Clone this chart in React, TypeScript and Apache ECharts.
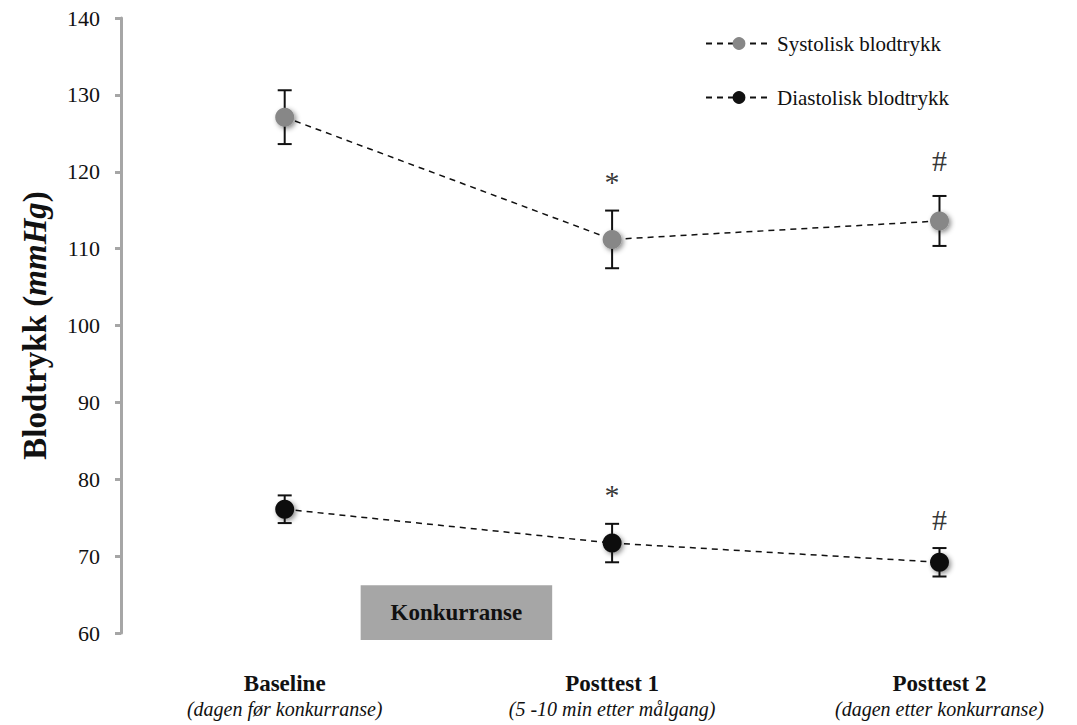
import React, { useEffect, useRef } from "react";
import * as echarts from "echarts";

// Measurement points on the x axis (0, 1, 2)
const timepoints = ["Baseline", "Posttest 1", "Posttest 2"];
const timepointNotes = [
  "(dagen før konkurranse)",
  "(5 -10 min etter målgang)",
  "(dagen etter konkurranse)",
];

// Blood pressure, mean and standard deviation (mmHg)
const systolicMean = [127.1, 111.2, 113.6];
const systolicSd = [3.5, 3.75, 3.25];
const diastolicMean = [76.1, 71.7, 69.2];
const diastolicSd = [1.8, 2.5, 1.85];

// Significance markers: [x, y, symbol]
const systolicSig: [number, number, string][] = [
  [1, 118.7, "*"],
  [2, 121.5, "#"],
];
const diastolicSig: [number, number, string][] = [
  [1, 78.0, "*"],
  [2, 74.8, "#"],
];

// Competition period shown between baseline and posttest 1
const competitionX = [0.232, 0.817];
const competitionY = [59.1, 66.2];

const yTicks = { min: 60, max: 140, interval: 10 };

const FONT = "Liberation Serif";

function errorRows(mean: number[], sd: number[]) {
  return mean.map((m, i) => [i, m - sd[i], m + sd[i]]);
}

export default function App() {
  const ref = useRef<HTMLDivElement>(null);

  useEffect(() => {
    if (!ref.current) return;
    const chart = echarts.init(ref.current, undefined, { renderer: "svg" });

    const errorBar = (name: string, rows: number[][]) => ({
      type: "custom",
      name,
      z: 1,
      silent: true,
      data: rows,
      renderItem: (_p: any, api: any) => {
        const x = api.value(0);
        const lo = api.coord([x, api.value(1)]);
        const hi = api.coord([x, api.value(2)]);
        const cap = 7;
        const style = { stroke: "#111", lineWidth: 2 };
        return {
          type: "group",
          children: [
            { type: "line", shape: { x1: lo[0], y1: lo[1], x2: hi[0], y2: hi[1] }, style },
            { type: "line", shape: { x1: lo[0] - cap, y1: lo[1], x2: lo[0] + cap, y2: lo[1] }, style },
            { type: "line", shape: { x1: hi[0] - cap, y1: hi[1], x2: hi[0] + cap, y2: hi[1] }, style },
          ],
        };
      },
    });

    const sigLabel = { fontFamily: FONT, fontSize: 30, color: "#000" };
    const sigSeries = (rows: [number, number, string][]) => ({
      type: "scatter",
      symbolSize: 1,
      itemStyle: { color: "rgba(0,0,0,0)" },
      silent: true,
      data: rows.map((r) => ({
        value: [r[0], r[1]],
        label: { ...sigLabel, show: true, position: "inside", formatter: r[2] },
      })),
      label: { ...sigLabel, show: true, position: "inside" },
    });

    const meanSeries = (name: string, data: number[], color: string) => ({
      type: "line",
      name,
      z: 3,
      data: data.map((v, i) => [i, v]),
      symbol: "circle",
      symbolSize: 19,
      showSymbol: true,
      itemStyle: {
        color,
        shadowBlur: 5,
        shadowColor: "rgba(0,0,0,0.45)",
        shadowOffsetX: 2,
        shadowOffsetY: 2,
      },
      lineStyle: { color: "#111", width: 1.5, type: [6, 5] },
    });

    chart.setOption({
      animation: false,
      textStyle: { fontFamily: FONT },
      grid: { left: 121, top: 18, right: 0, bottom: 92 },
      legend: {
        orient: "vertical",
        left: 700,
        top: 28,
        itemWidth: 66,
        itemHeight: 16,
        itemGap: 33,
        textStyle: { fontFamily: FONT, fontSize: 21, color: "#111" },
        data: ["Systolisk blodtrykk", "Diastolisk blodtrykk"],
      },
      xAxis: {
        type: "value",
        min: -0.5,
        max: 2.42,
        interval: 0.5,
        axisLine: { show: false },
        axisTick: { show: false },
        splitLine: { show: false },
        axisLabel: {
          margin: 38,
          showMaxLabel: false,
          formatter: (v: number) => {
            const i = Math.round(v);
            if (Math.abs(v - i) > 1e-6 || i < 0 || i >= timepoints.length) return "";
            return `{b|${timepoints[i]}}\n{i|${timepointNotes[i]}}`;
          },
          rich: {
            b: { fontFamily: FONT, fontSize: 23, fontWeight: "bold", color: "#111", lineHeight: 25 },
            i: { fontFamily: FONT, fontSize: 20, fontStyle: "italic", color: "#111", lineHeight: 25 },
          },
        },
      },
      yAxis: {
        type: "value",
        min: yTicks.min,
        max: yTicks.max,
        interval: yTicks.interval,
        name: "{a|Blodtrykk (}{b|mmHg}{a|)}",
        nameLocation: "middle",
        nameGap: 70,
        nameTextStyle: {
          rich: {
            a: { fontFamily: FONT, fontSize: 33, fontWeight: "bold", color: "#111" },
            b: { fontFamily: FONT, fontSize: 33, fontWeight: "bold", fontStyle: "italic", color: "#111" },
          },
        },
        axisLine: { show: true, onZero: false, lineStyle: { color: "#a6a6a6", width: 3 } },
        axisTick: { show: true, length: 6, lineStyle: { color: "#a6a6a6", width: 3 } },
        splitLine: { show: false },
        axisLabel: { fontFamily: FONT, fontSize: 22, color: "#111", margin: 21 },
      },
      series: [
        {
          type: "custom",
          z: 0,
          silent: true,
          clip: false,
          data: [[competitionX[0], competitionY[1], competitionX[1], competitionY[0]]],
          renderItem: (_p: any, api: any) => {
            const a = api.coord([api.value(0), api.value(1)]);
            const b = api.coord([api.value(2), api.value(3)]);
            return {
              type: "group",
              children: [
                {
                  type: "rect",
                  shape: { x: a[0], y: a[1], width: b[0] - a[0], height: b[1] - a[1] },
                  style: { fill: "#a6a6a6" },
                },
                {
                  type: "text",
                  x: (a[0] + b[0]) / 2,
                  y: (a[1] + b[1]) / 2,
                  style: {
                    text: "Konkurranse",
                    fontFamily: FONT,
                    fontSize: 23,
                    fontWeight: "bold",
                    fill: "#111",
                    align: "center",
                    verticalAlign: "middle",
                  },
                },
              ],
            };
          },
        },
        errorBar("sysErr", errorRows(systolicMean, systolicSd)),
        errorBar("diaErr", errorRows(diastolicMean, diastolicSd)),
        meanSeries("Systolisk blodtrykk", systolicMean, "#878787"),
        meanSeries("Diastolisk blodtrykk", diastolicMean, "#111111"),
        sigSeries(systolicSig),
        sigSeries(diastolicSig),
      ],
    });

    return () => chart.dispose();
  }, []);

  return (
    <div
      ref={ref}
      style={{ position: "fixed", left: 0, top: 0, width: 1077, height: 725, background: "#fff" }}
    />
  );
}
